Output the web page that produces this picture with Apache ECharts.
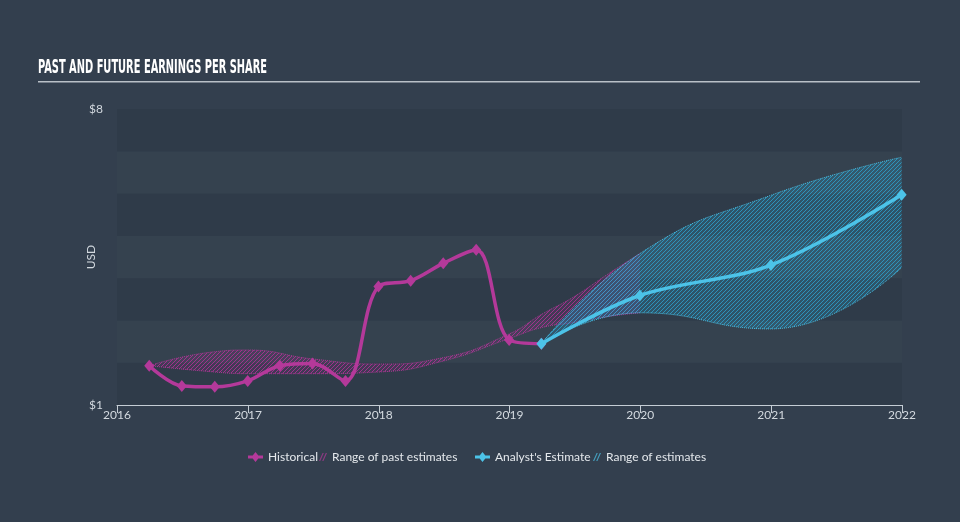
<!DOCTYPE html>
<html><head><meta charset="utf-8">
<script src="https://cdn.jsdelivr.net/npm/echarts@6/dist/echarts.min.js"></script>
<style>html,body{margin:0;padding:0;background:#333f4e;}#main{width:960px;height:522px;}</style>
</head><body><div id="main"></div>
<script>
// ---- data ----
const historicalDates = ['2016-03-31','2016-06-30','2016-09-30','2016-12-31','2017-03-31','2017-06-30','2017-09-30','2017-12-31','2018-03-31','2018-06-30','2018-09-30','2018-12-31','2019-03-31'];
const historicalEPS = [1.93,1.45,1.43,1.57,1.93,1.98,1.57,3.80,3.94,4.35,4.67,2.54,2.45];
const estimateDates = ['2019-03-31','2019-12-31','2020-12-31','2021-12-31'];
const estimateEPS = [2.45,3.59,4.31,5.97];
const estimateHigh = [2.45,4.58,5.96,6.86];
const estimateLow = [2.45,3.18,2.80,4.25];
const pastRangeDates = ['2016-03-31','2016-09-30','2016-12-31','2017-06-30','2017-12-31','2018-06-30','2018-12-31','2019-03-31','2019-06-30','2019-09-30','2019-12-31'];
const pastRangeHigh = [1.93,2.26,2.30,2.09,1.97,2.12,2.68,3.14,3.56,4.08,4.58];
const pastRangeLow = [1.93,1.78,1.74,1.74,1.78,2.04,2.57,2.83,2.95,3.09,3.18];
const yMin = 1, yMax = 8;
const xMin = '2016-01-01', xMax = '2022-01-01';
const titleText = 'PAST AND FUTURE EARNINGS PER SHARE';

// ---- styles ----
const MAGENTA = '#b4399a';
const BLUE = '#4cc3e8';
function hatch(r,g,b,aOn,aOff){
  const c = document.createElement('canvas'); c.width = 4; c.height = 4;
  const ctx = c.getContext('2d');
  const img = ctx.createImageData(4,4);
  for (let y=0; y<4; y++) for (let x=0; x<4; x++) {
    const i = (y*4+x)*4;
    const on = ((x + y) % 4) === 3;
    img.data[i]=r; img.data[i+1]=g; img.data[i+2]=b;
    img.data[i+3] = on ? aOn : aOff;
  }
  ctx.putImageData(img,0,0);
  return c;
}
const zip = (a,b) => a.map((d,i) => [d, b[i]]);
const diff = (hi,lo) => hi.map((v,i) => +(v - lo[i]).toFixed(3));

const mc = document.createElement('canvas').getContext('2d');
const titleFont = 'bold 19px "DejaVu Sans Condensed", "DejaVu Sans", sans-serif';
mc.font = titleFont;
const tw = mc.measureText(titleText).width;
const titleScale = 229 / tw;

const chart = echarts.init(document.getElementById('main'), null, {renderer:'canvas'});
const labelColor = '#d3d9df';
const lineIcon = 'path://M0,3.5 L4.7,3.5 L7.5,0 L10.3,3.5 L15,3.5 L15,6.5 L10.3,6.5 L7.5,10 L4.7,6.5 L0,6.5 Z';
const hatchIcon = 'path://M0,9 L4,0 L5.4,0 L1.4,9 Z M3.6,9 L7.6,0 L9,0 L5,9 Z';
const legendText = {color:'#e4e8ec', fontSize:12, fontFamily:'Lato, "Open Sans", sans-serif'};

chart.setOption({
  backgroundColor:'#333f4e',
  animation:false,
  graphic:[
    {type:'text', left:38, top:59, scaleX:titleScale, style:{text:titleText, font:titleFont, fill:'#ffffff'}},
    {type:'rect', shape:{x:38, y:81, width:882, height:1.5}, style:{fill:'#b9c0c7'}}
  ],
  grid:{left:117, right:58, top:109, bottom:117},
  legend:[
    {left:248, top:451, padding:0, itemWidth:15, itemHeight:10, textStyle:legendText,
     data:[{name:'Historical', icon:lineIcon, itemStyle:{color:MAGENTA}}]},
    {left:319, top:451, padding:0, itemWidth:8, itemHeight:9, itemTextGap:3, textStyle:legendText,
     data:[{name:'Range of past estimates', icon:hatchIcon, itemStyle:{color:'rgba(180,57,154,0.7)'}}]},
    {left:475, top:451, padding:0, itemWidth:15, itemHeight:10, textStyle:legendText,
     data:[{name:"Analyst's Estimate", icon:lineIcon, itemStyle:{color:BLUE}}]},
    {left:593, top:451, padding:0, itemWidth:8, itemHeight:9, itemTextGap:3, textStyle:legendText,
     data:[{name:'Range of estimates', icon:hatchIcon, itemStyle:{color:'rgba(76,195,232,0.7)'}}]}
  ],
  xAxis:{
    type:'time', min:xMin, max:xMax,
    minInterval:365*24*3600*1000, maxInterval:366*24*3600*1000,
    splitLine:{show:false},
    axisLine:{lineStyle:{color:'#c5cdd5', width:1}},
    axisTick:{show:true, length:8, lineStyle:{color:'#c5cdd5'}},
    axisLabel:{color:labelColor, fontSize:12, margin:4, formatter:'{yyyy}', fontFamily:'Lato, sans-serif',
               showMinLabel:true, showMaxLabel:true}
  },
  yAxis:{
    type:'value', min:yMin, max:yMax, interval:1,
    name:'USD', nameLocation:'middle', nameGap:20, nameRotate:90, nameMoveOverlap:false,
    nameTextStyle:{color:labelColor, fontSize:12, fontFamily:'Lato, sans-serif'},
    axisLine:{show:false}, axisTick:{show:false}, splitLine:{show:false},
    splitArea:{show:true, areaStyle:{color:['#2f3b49','#35424f']}},
    axisLabel:{color:labelColor, fontSize:12, margin:14, fontFamily:'Lato, sans-serif',
      formatter:v => (v === yMin || v === yMax) ? '$' + v : ''}
  },
  series:[
    {type:'line', name:'pastLow', stack:'past', data:zip(pastRangeDates, pastRangeLow), smooth:0.5,
     symbol:'none', silent:true, z:1, itemStyle:{color:MAGENTA},
     lineStyle:{color:'rgba(180,57,154,0.9)', width:1, type:'dotted'}},
    {type:'line', name:'Range of past estimates', stack:'past', data:zip(pastRangeDates, diff(pastRangeHigh, pastRangeLow)), smooth:0.5,
     symbol:'none', silent:true, z:1, itemStyle:{color:MAGENTA},
     lineStyle:{color:'rgba(180,57,154,0.9)', width:1, type:'dotted'},
     areaStyle:{color:{image:hatch(175,50,150,220,40), repeat:'repeat'}, opacity:1}},
    {type:'line', name:'futLow', stack:'fut', data:zip(estimateDates, estimateLow), smooth:0.5,
     symbol:'none', silent:true, z:2, itemStyle:{color:BLUE},
     lineStyle:{color:'rgba(76,195,232,0.95)', width:1, type:'dotted'}},
    {type:'line', name:'Range of estimates', stack:'fut', data:zip(estimateDates, diff(estimateHigh, estimateLow)), smooth:0.5,
     symbol:'none', silent:true, z:2, itemStyle:{color:BLUE},
     lineStyle:{color:'rgba(76,195,232,0.95)', width:1, type:'dotted'},
     areaStyle:{color:{image:hatch(45,165,210,210,60), repeat:'repeat'}, opacity:1}},
    {type:'line', name:'Historical', data:zip(historicalDates, historicalEPS), smooth:0.35,
     symbol:'diamond', symbolSize:[10,12], z:4, itemStyle:{color:MAGENTA},
     lineStyle:{color:MAGENTA, width:3.5}},
    {type:'line', name:"Analyst's Estimate", data:zip(estimateDates, estimateEPS), smooth:0.35,
     symbol:'diamond', symbolSize:[10,12], z:5, itemStyle:{color:BLUE},
     lineStyle:{color:BLUE, width:3.5}}
  ]
});
</script></body></html>
